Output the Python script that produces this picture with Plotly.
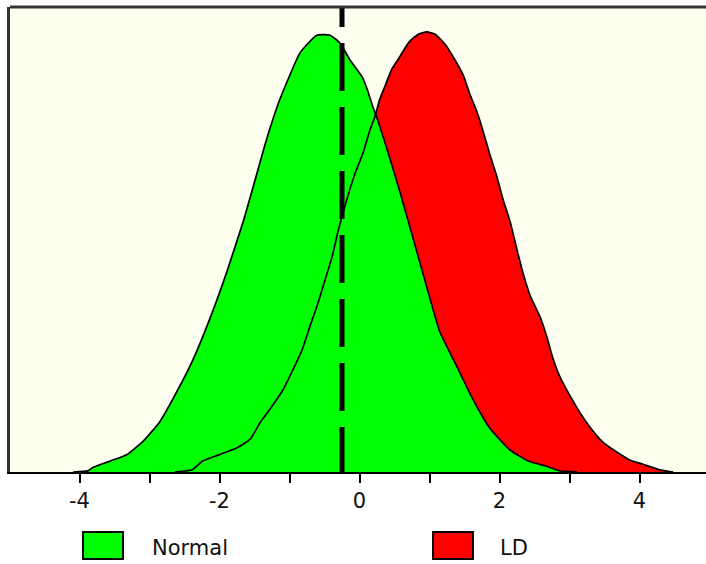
import plotly.graph_objects as go

# ---- data ----
normal_x = [-4.09, -3.88, -3.81, -3.56, -3.32, -3.09, -2.85, -2.61, -2.38, -2.14, -1.89,
            -1.66, -1.52, -1.32, -1.16, -1.02, -0.85, -0.61, -0.42, -0.28, -0.14, 0.04, 0.11,
            0.19, 0.26, 0.41, 0.58, 0.82, 1.01, 1.15, 1.39, 1.62, 1.86, 2.15, 2.41, 2.68, 2.86, 3.11]
normal_y = [0.0, 0.001, 0.004, 0.010, 0.016, 0.028, 0.046, 0.073, 0.102, 0.139, 0.183,
            0.228, 0.259, 0.304, 0.335, 0.357, 0.381, 0.397, 0.397, 0.390, 0.375, 0.359, 0.348,
            0.332, 0.320, 0.290, 0.254, 0.200, 0.157, 0.127, 0.096, 0.066, 0.040, 0.020, 0.010,
            0.005, 0.001, 0.0]

ld_x = [-2.64, -2.39, -2.24, -1.99, -1.75, -1.56, -1.42, -1.28, -1.09, -0.95, -0.82, -0.71,
        -0.59, -0.49, -0.39, -0.31, -0.18, -0.06, 0.05, 0.15, 0.22, 0.29, 0.36, 0.46, 0.58,
        0.71, 0.84, 0.96, 1.08, 1.22, 1.36, 1.48, 1.58, 1.68, 1.76, 1.86, 1.96, 2.05, 2.15,
        2.25, 2.34, 2.44, 2.58, 2.68, 2.76, 2.86, 3.01, 3.15, 3.29, 3.48, 3.68, 3.86, 4.05,
        4.29, 4.48]
ld_y = [0.0, 0.002, 0.010, 0.016, 0.022, 0.030, 0.045, 0.057, 0.075, 0.093, 0.111, 0.132,
        0.154, 0.175, 0.196, 0.218, 0.248, 0.272, 0.290, 0.311, 0.323, 0.339, 0.350, 0.366, 0.378,
        0.391, 0.398, 0.400, 0.398, 0.389, 0.375, 0.361, 0.343, 0.327, 0.311, 0.289, 0.269, 0.248,
        0.228, 0.202, 0.180, 0.160, 0.141, 0.122, 0.104, 0.087, 0.069, 0.054, 0.041, 0.027, 0.018,
        0.011, 0.007, 0.002, 0.0]

criterion = -0.25
tick_vals = [-4, -3, -2, -1, 0, 1, 2, 3, 4]
tick_text = ["-4", "", "-2", "", "0", "", "2", "", "4"]
series_names = ["Normal", "LD"]
series_colors = ["#00FF00", "#FF0000"]

X_RANGE = [-4.993, 4.95]
Y_RANGE = [0, 0.4227]

fig = go.Figure()
line_kw = dict(shape="spline", smoothing=0.5)

# fills: LD beneath, Normal on top
fig.add_trace(go.Scatter(x=ld_x, y=ld_y, mode="lines", fill="tozeroy",
                         fillcolor=series_colors[1], line=dict(width=0, **line_kw),
                         name=series_names[1], showlegend=False, hoverinfo="skip"))
fig.add_trace(go.Scatter(x=normal_x, y=normal_y, mode="lines", fill="tozeroy",
                         fillcolor=series_colors[0], line=dict(width=0, **line_kw),
                         name=series_names[0], showlegend=False, hoverinfo="skip"))
# outlines on top
fig.add_trace(go.Scatter(x=ld_x, y=ld_y, mode="lines",
                         line=dict(color="black", width=1.7, **line_kw), showlegend=False))
fig.add_trace(go.Scatter(x=normal_x, y=normal_y, mode="lines",
                         line=dict(color="black", width=1.7, **line_kw), showlegend=False))

# dashed criterion line
dash = "20px,16px," + ",".join(["48px,16px"] * 7)
fig.add_trace(go.Scatter(x=[criterion, criterion], y=[Y_RANGE[1], 0], mode="lines",
                         line=dict(color="black", width=5, dash=dash), showlegend=False))

# top border
fig.add_shape(type="line", xref="paper", yref="paper", x0=0, x1=1, y0=1, y1=1,
              line=dict(color="#333333", width=3))

# custom legend
legend_items = [(0.1049, 0.1624, 0.2011), (0.6078, 0.6652, 0.7011)]
for (bx0, bx1, tx), name, col in zip(legend_items, series_names, series_colors):
    fig.add_shape(type="rect", xref="paper", yref="paper", x0=bx0, x1=bx1,
                  y0=-0.187, y1=-0.129, fillcolor=col, line=dict(color="black", width=2))
    fig.add_annotation(xref="paper", yref="paper", x=tx, y=-0.1634, text=name,
                       showarrow=False, xanchor="left", yanchor="middle",
                       font=dict(family="DejaVu Sans", size=21, color="#111111"))

fig.update_layout(
    width=706, height=564,
    margin=dict(l=10, r=0, t=7, b=92),
    paper_bgcolor="white", plot_bgcolor="#FFFFF0",
    showlegend=False,
    font=dict(family="DejaVu Sans", size=21, color="#111111"),
)
fig.update_xaxes(range=X_RANGE, tickvals=tick_vals, ticktext=tick_text,
                 ticks="outside", ticklen=9, tickwidth=2, tickcolor="black",
                 showline=True, linecolor="black", linewidth=2,
                 showgrid=False, zeroline=False, fixedrange=True)
fig.update_yaxes(range=Y_RANGE, showticklabels=False, ticks="",
                 showline=True, linecolor="#333333", linewidth=3,
                 showgrid=False, zeroline=False, fixedrange=True)

fig.write_html("out.html", config={"displayModeBar": False},
               post_script="document.body.style.margin='0';document.body.style.overflow='hidden';")
